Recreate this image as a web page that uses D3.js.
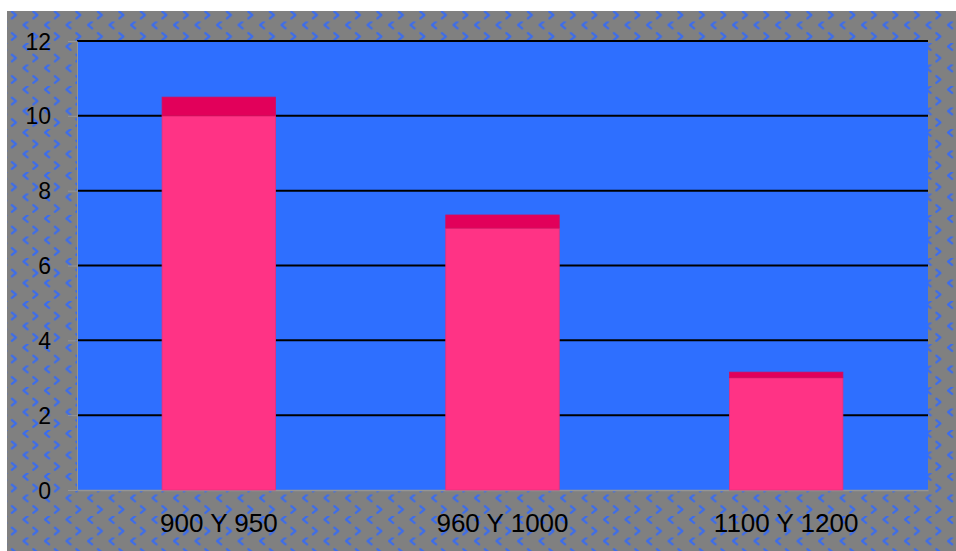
<!DOCTYPE html>
<html><head><meta charset="utf-8">
<script src="https://cdn.jsdelivr.net/npm/d3@7"></script>
<style>body{margin:0;background:#fff;}svg{display:block;}</style>
</head><body>
<svg id="c" width="956" height="551"></svg>
<script>
const categories = ["900 Y 950", "960 Y 1000", "1100 Y 1200"];
const baseValues = [10, 7, 3];
const capValues = [0.5, 0.35, 0.15];
const yTicks = [0, 2, 4, 6, 8, 10, 12];

(function(){
const svg = d3.select("#c");
const defs = svg.append("defs");
const P = 21.5;
const pat = defs.append("pattern").attr("id","chev").attr("patternUnits","userSpaceOnUse")
  .attr("x",0).attr("y",0).attr("width",P).attr("height",P);
pat.append("rect").attr("width",P).attr("height",P).attr("fill","#808080");
const chevColor = "#3a6cf0";
pat.append("path").attr("d","M11.8,11.6 L16,15 L11.8,18.4").attr("fill","none")
  .attr("stroke",chevColor).attr("stroke-width",2.2).attr("stroke-linejoin","round").attr("stroke-linecap","round");
pat.append("path").attr("d","M6.2,0.1 L2,3.5 L6.2,6.9").attr("fill","none")
  .attr("stroke",chevColor).attr("stroke-width",2.2).attr("stroke-linejoin","round").attr("stroke-linecap","round");

svg.append("rect").attr("x",7).attr("y",11).attr("width",949).attr("height",540).attr("fill","url(#chev)");

const pl = 77, pr = 928, pt = 41, pb = 490;
const x = d3.scaleBand().domain(categories).range([pl, pr]).padding(0);
const y = d3.scaleLinear().domain([0, 12]).range([pb, pt]);

svg.append("rect").attr("x",pl).attr("y",pt).attr("width",pr-pl).attr("height",pb-pt).attr("fill","#2e6fff");

svg.append("g").selectAll("line").data(yTicks.filter(d=>d>0)).join("line")
  .attr("x1",pl).attr("x2",pr).attr("y1",d=>y(d)).attr("y2",d=>y(d))
  .attr("stroke","#000").attr("stroke-width",2);

const yAxis = svg.append("g").attr("transform",`translate(${pl},0)`)
  .call(d3.axisLeft(y).tickValues(yTicks).tickSize(9).tickSizeOuter(0).tickFormat(""));
yAxis.selectAll("line,path").attr("stroke","#959595").attr("stroke-width",1);
const xAxis = svg.append("g").attr("transform",`translate(0,${pb})`)
  .call(d3.axisBottom(x).tickSize(0).tickFormat(""));
xAxis.selectAll("path").attr("stroke","#959595").attr("stroke-width",1.5);

const bw = x.bandwidth()*0.4;
const bx = d => x(d) + (x.bandwidth()-bw)/2;
svg.append("g").selectAll("rect").data(categories).join("rect")
  .attr("x",bx).attr("width",bw)
  .attr("y",(d,i)=>y(baseValues[i])).attr("height",(d,i)=>y(0)-y(baseValues[i]))
  .attr("fill","#ff3385").attr("stroke","#e8307a").attr("stroke-width",0.8);
svg.append("g").selectAll("rect").data(categories).join("rect")
  .attr("x",bx).attr("width",bw)
  .attr("y",(d,i)=>y(baseValues[i]+capValues[i])).attr("height",(d,i)=>y(baseValues[i])-y(baseValues[i]+capValues[i]))
  .attr("fill","#e2005a").attr("stroke","#d0105c").attr("stroke-width",0.8);

svg.append("g").selectAll("text").data(yTicks).join("text")
  .attr("x",51).attr("y",d=>y(d)+8.5).attr("text-anchor","end")
  .attr("font-family","Liberation Sans, Arial, sans-serif").attr("font-size",23).attr("fill","#000")
  .text(d=>d);
svg.append("g").selectAll("text").data(categories).join("text")
  .attr("x",d=>x(d)+x.bandwidth()/2).attr("y",532).attr("text-anchor","middle")
  .attr("font-family","Liberation Sans, Arial, sans-serif").attr("font-size",26).attr("fill","#000")
  .text(d=>d);
})();
</script>
</body></html>
